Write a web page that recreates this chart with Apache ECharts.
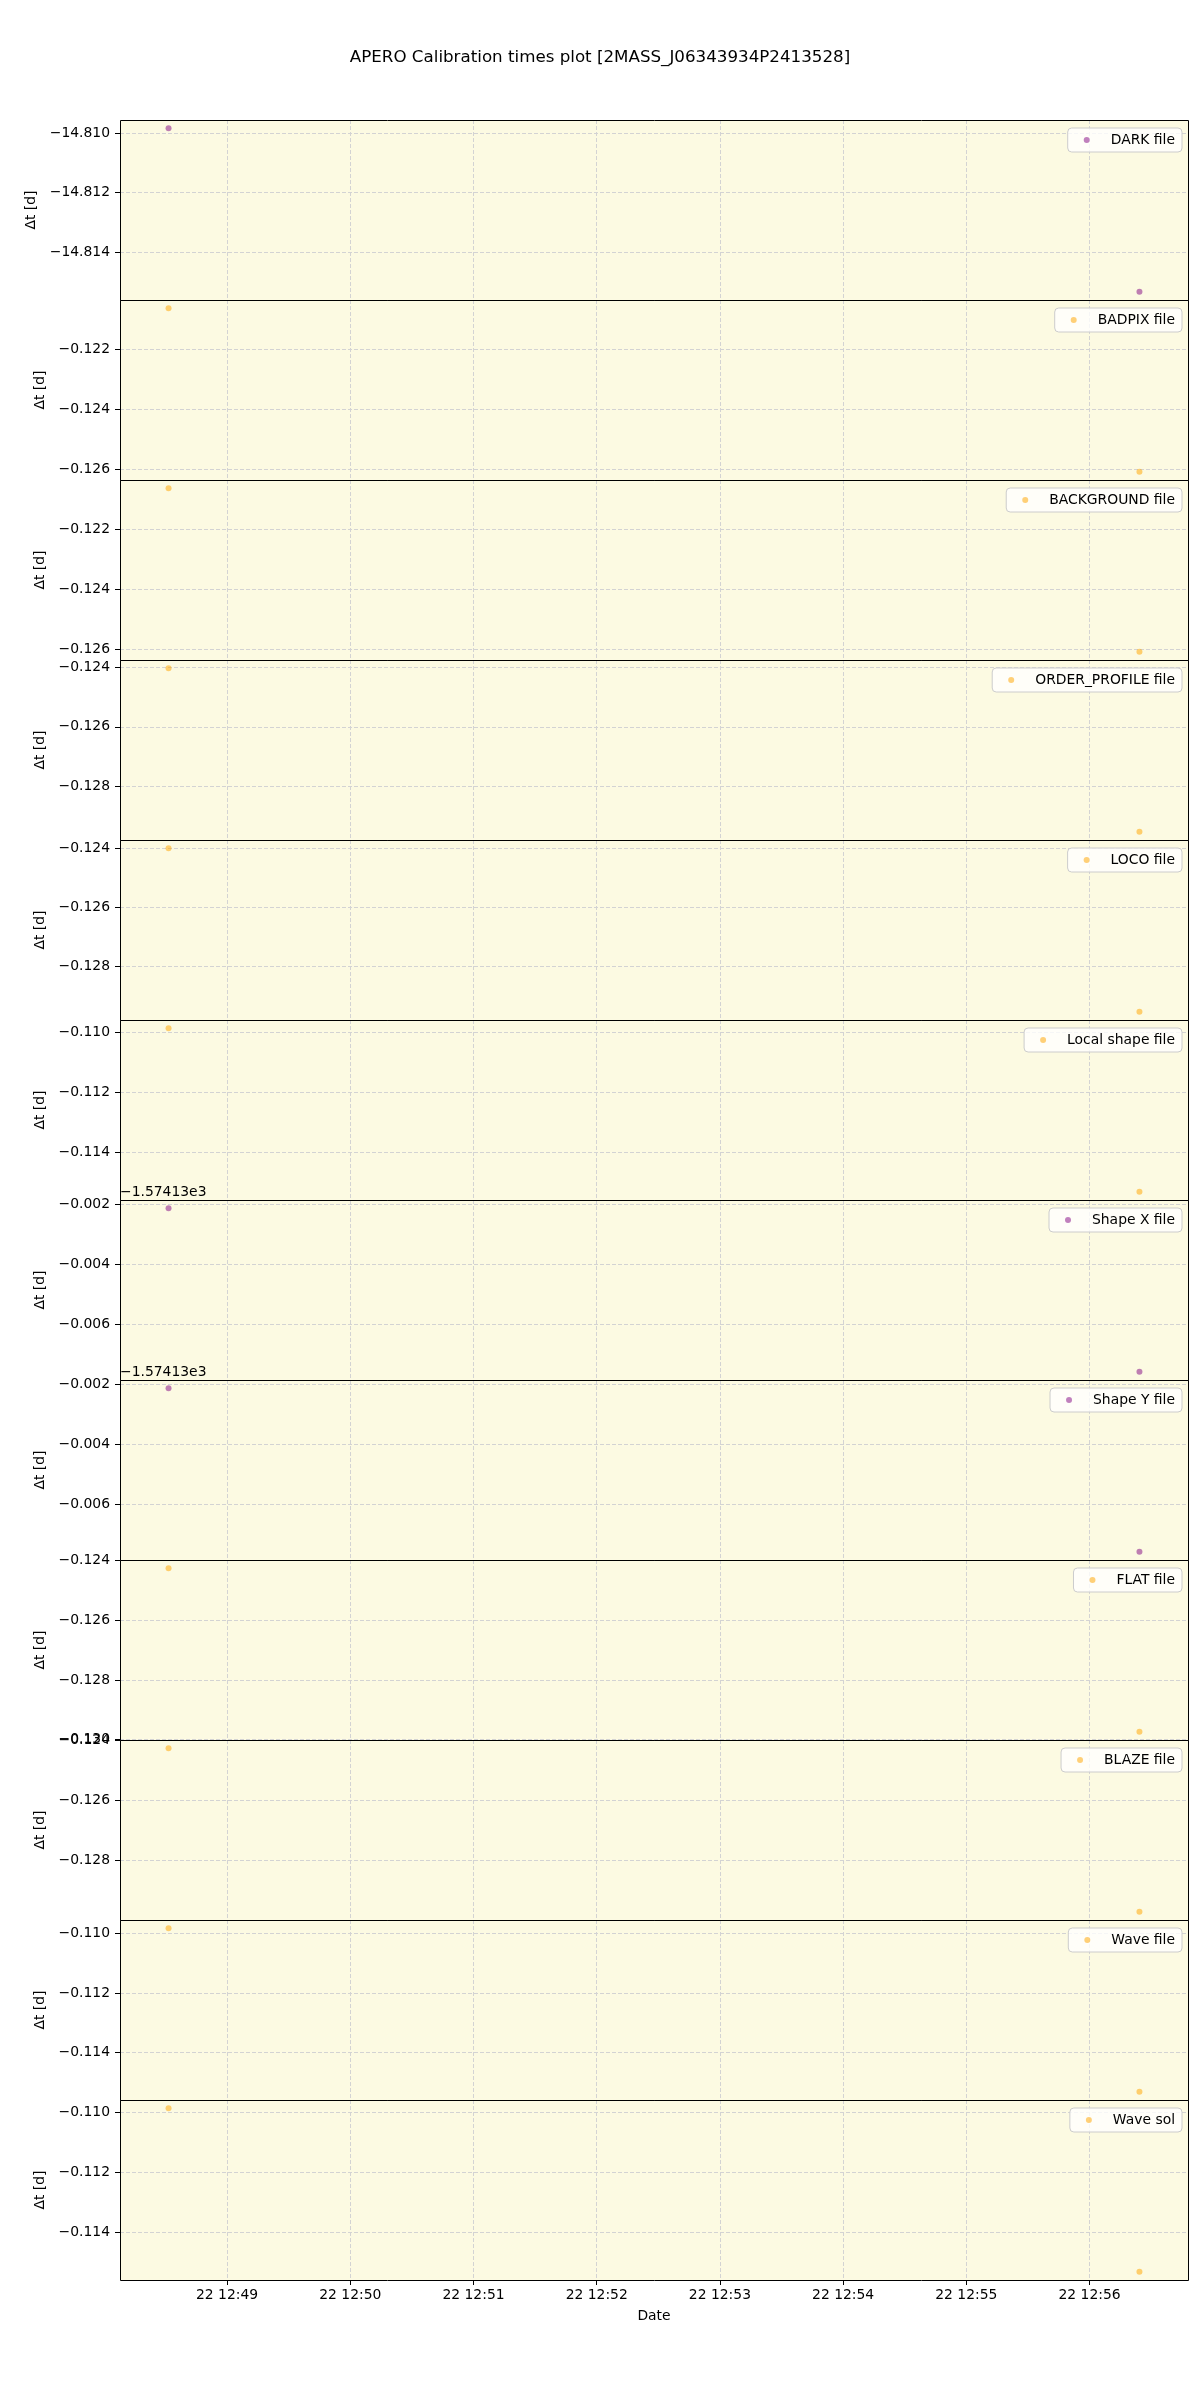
<!DOCTYPE html>
<html><head><meta charset="utf-8">
<script src="https://cdn.jsdelivr.net/npm/echarts@6/dist/echarts.min.js"></script>
<style>html,body{margin:0;padding:0;background:#fff}#c{width:1200px;height:2400px}</style>
</head><body><div id="c"></div>
<script>
// ---------------- data ----------------
const chartTitle = 'APERO Calibration times plot [2MASS_J06343934P2413528]';
const panelNames = ['DARK file','BADPIX file','BACKGROUND file','ORDER_PROFILE file','LOCO file','Local shape file','Shape X file','Shape Y file','FLAT file','BLAZE file','Wave file','Wave sol'];
const pointTimes = ['2020-11-22T12:48:31.5Z','2020-11-22T12:56:24.3Z'];
const xTickTimes = ['2020-11-22T12:49:00Z','2020-11-22T12:50:00Z','2020-11-22T12:51:00Z','2020-11-22T12:52:00Z','2020-11-22T12:53:00Z','2020-11-22T12:54:00Z','2020-11-22T12:55:00Z','2020-11-22T12:56:00Z'];

const darkValues        = [-14.80983, -14.81533];
const badpixValues      = [-0.12064, -0.12609];
const backgroundValues  = [-0.12064, -0.12609];
const orderProfileValues= [-0.12402, -0.12955];
const locoValues        = [-0.12400, -0.12953];
const localShapeValues  = [-0.10985, -0.11533];
const shapeXValues      = [-1574.13213, -1574.13758];
const shapeYValues      = [-1574.13213, -1574.13760];
const flatValues        = [-0.12425, -0.12974];
const blazeValues       = [-0.12425, -0.12972];
const waveFileValues    = [-0.10983, -0.11531];
const waveSolValues     = [-0.10985, -0.11533];

const darkTicks   = [-14.810, -14.812, -14.814];
const badpixTicks = [-0.122, -0.124, -0.126];
const bgTicks     = [-0.122, -0.124, -0.126];
const opTicks     = [-0.124, -0.126, -0.128];
const locoTicks   = [-0.124, -0.126, -0.128];
const lsTicks     = [-0.110, -0.112, -0.114];
const shapeXTicks = [-1574.132, -1574.134, -1574.136];
const shapeYTicks = [-1574.132, -1574.134, -1574.136];
const flatTicks   = [-0.124, -0.126, -0.128, -0.130];
const blazeTicks  = [-0.124, -0.126, -0.128, -0.130];
const waveFTicks  = [-0.110, -0.112, -0.114];
const waveSTicks  = [-0.110, -0.112, -0.114];

const shapeOffset = -1574.13;
const offsetLabel = '\u22121.57413e3';

// ---------------- styling ----------------
const PURPLE = 'rgba(128,0,128,0.62)';
const ORANGE = 'rgba(255,165,0,0.65)';
const FONT = 'DejaVu Sans';
const FS = 13.9;
const panels = [
  {values: darkValues, ticks: darkTicks, offset: 0, color: PURPLE, nameGap: 72},
  {values: badpixValues, ticks: badpixTicks, offset: 0, color: ORANGE, nameGap: 64},
  {values: backgroundValues, ticks: bgTicks, offset: 0, color: ORANGE, nameGap: 64},
  {values: orderProfileValues, ticks: opTicks, offset: 0, color: ORANGE, nameGap: 64},
  {values: locoValues, ticks: locoTicks, offset: 0, color: ORANGE, nameGap: 64},
  {values: localShapeValues, ticks: lsTicks, offset: 0, color: ORANGE, nameGap: 64},
  {values: shapeXValues, ticks: shapeXTicks, offset: shapeOffset, color: PURPLE, nameGap: 64, offText: true},
  {values: shapeYValues, ticks: shapeYTicks, offset: shapeOffset, color: PURPLE, nameGap: 64, offText: true},
  {values: flatValues, ticks: flatTicks, offset: 0, color: ORANGE, nameGap: 64},
  {values: blazeValues, ticks: blazeTicks, offset: 0, color: ORANGE, nameGap: 64},
  {values: waveFileValues, ticks: waveFTicks, offset: 0, color: ORANGE, nameGap: 64},
  {values: waveSolValues, ticks: waveSTicks, offset: 0, color: ORANGE, nameGap: 64}
];

const TOP0 = 120, PH = 180, LEFT = 120, RIGHT = 12, W = 1200;
const MINUS = '\u2212';
const fmt = (v, d) => v.toFixed(d).replace('-', MINUS);
const tms = pointTimes.map(t => Date.parse(t));
const xTicks = xTickTimes.map(t => Date.parse(t));
const xPad = (Math.max(...tms) - Math.min(...tms)) * 0.05;
const xMin = Math.min(...tms) - xPad, xMax = Math.max(...tms) + xPad;
const p2 = n => String(n).padStart(2, '0');
const xLabel = v => { const d = new Date(v); return d.getUTCDate() + ' ' + p2(d.getUTCHours()) + ':' + p2(d.getUTCMinutes()); };

const grids = [], xAxes = [], yAxes = [], series = [], legends = [], graphics = [];
const gridLine = {show: true, lineStyle: {color: '#d3d3d3', type: [4, 2], width: 1}};
const last = panels.length - 1;

panels.forEach((p, i) => {
  const top = TOP0 + PH * i;
  grids.push({left: LEFT, right: RIGHT, top: top, height: PH, show: true,
    backgroundColor: '#fcfae2', borderWidth: 0, containLabel: false});
  const isLast = i === last;
  xAxes.push({type: 'value', gridIndex: i, min: xMin, max: xMax,
    axisLine: {show: false},
    axisTick: {show: isLast, length: 5, customValues: xTicks, lineStyle: {color: '#000'}},
    axisLabel: {show: isLast, customValues: xTicks, formatter: xLabel, margin: 8,
      color: '#000', fontSize: FS, fontFamily: FONT},
    splitLine: gridLine,
    name: isLast ? 'Date' : '', nameLocation: 'middle', nameGap: 29,
    nameTextStyle: {color: '#000', fontSize: FS, fontFamily: FONT}});
  const lo = Math.min(...p.values), hi = Math.max(...p.values);
  const yp = (hi - lo) * 0.05;
  const off = p.offset;
  yAxes.push({type: 'value', gridIndex: i, min: lo - yp, max: hi + yp,
    axisLine: {show: false},
    axisTick: {show: true, length: 5, customValues: p.ticks, lineStyle: {color: '#000'}},
    axisLabel: {customValues: p.ticks, margin: 10, color: '#000', fontSize: FS, fontFamily: FONT,
      formatter: v => fmt(v - off, 3)},
    splitLine: gridLine,
    name: '\u0394t [d]', nameLocation: 'middle', nameGap: p.nameGap,
    nameTextStyle: {color: '#000', fontSize: FS, fontFamily: FONT}});
  series.push({type: 'scatter', name: panelNames[i], xAxisIndex: i, yAxisIndex: i,
    symbol: 'circle', symbolSize: 6, itemStyle: {color: p.color},
    data: tms.map((t, k) => [t, p.values[k]])});
  legends.push({data: [panelNames[i]], right: 18, top: top + 8, orient: 'horizontal',
    backgroundColor: 'rgba(255,255,255,0.8)', borderColor: '#cccccc', borderWidth: 1, borderRadius: 4,
    padding: [5, 7, 5, 16], itemWidth: 6, itemHeight: 6, icon: 'circle',
    selectedMode: false, z: 20,
    textStyle: {color: '#000', fontSize: FS, fontFamily: FONT, padding: [0, 0, 0, 16]}});
  // panel frame (spines), drawn above grid lines
  graphics.push({type: 'rect', z: 10, silent: true,
    shape: {x: LEFT + 0.5, y: top + 0.5, width: W - LEFT - RIGHT, height: PH},
    style: {fill: null, stroke: '#000', lineWidth: 1}});
  if (p.offText) {
    graphics.push({type: 'text', left: LEFT, top: top - 15, z: 10,
      style: {text: offsetLabel, fill: '#000', font: FS + 'px "' + FONT + '"'}});
  }
});

const chart = echarts.init(document.getElementById('c'), null, {renderer: 'canvas'});
chart.setOption({
  animation: false,
  backgroundColor: '#ffffff',
  textStyle: {fontFamily: FONT},
  title: {text: chartTitle, left: 'center', top: 49, padding: 0,
    textStyle: {fontSize: 16.7, fontWeight: 'normal', color: '#000', fontFamily: FONT}},
  grid: grids, xAxis: xAxes, yAxis: yAxes, series: series, legend: legends, graphic: graphics
});
</script></body></html>
